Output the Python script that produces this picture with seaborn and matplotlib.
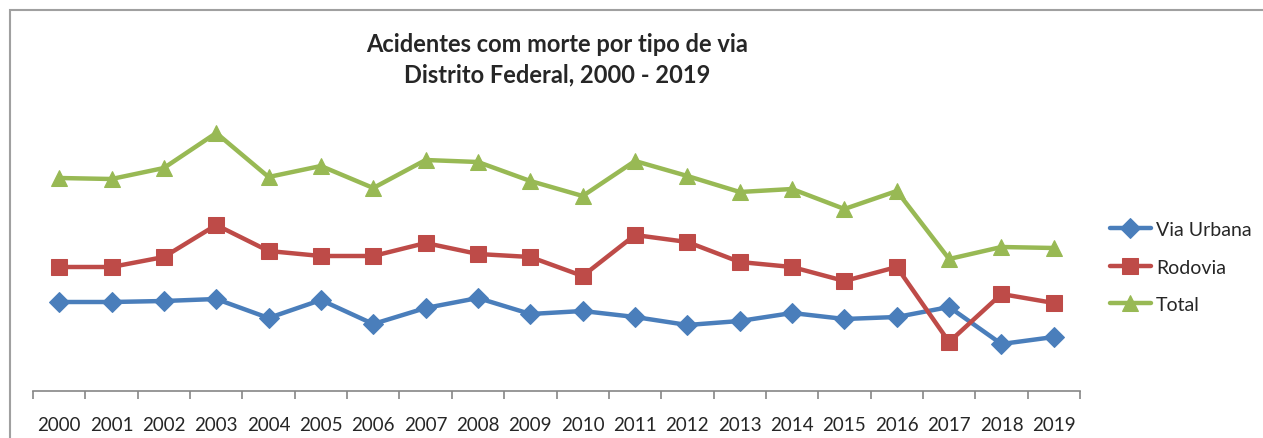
import matplotlib
matplotlib.use('Agg')
import matplotlib.pyplot as plt
import seaborn as sns
import pandas as pd
from matplotlib.patches import Rectangle

# Values (no y axis shown; units estimated)
anos = [str(a) for a in range(2000, 2020)]
via_urbana = [178, 178, 180, 184, 146, 182, 134, 166, 186, 154,
              160, 148, 132, 140, 156, 144, 148, 168, 94, 108]
rodovia = [248, 248, 268, 332, 280, 270, 270, 296, 274, 268,
           230, 312, 298, 258, 248, 220, 248, 98, 194, 176]
total = [426, 424, 446, 516, 428, 450, 406, 462, 458, 420,
         390, 460, 430, 398, 404, 364, 400, 264, 288, 286]

series = {'Via Urbana': via_urbana, 'Rodovia': rodovia, 'Total': total}
cores = {'Via Urbana': '#4A7EBB', 'Rodovia': '#BE4B48', 'Total': '#98B954'}
marcadores = {'Via Urbana': 'D', 'Rodovia': 's', 'Total': '^'}
tamanhos = {'Via Urbana': 10, 'Rodovia': 11, 'Total': 12}

df = pd.DataFrame({'ano': anos * 3,
                   'valor': via_urbana + rodovia + total,
                   'tipo': [k for k in series for _ in anos]})
df['pos'] = list(range(len(anos))) * 3

sns.set_style('white', {'xtick.bottom': True})
plt.rcParams['font.family'] = ['Lato', 'DejaVu Sans']

W, H = 1263, 439
fig = plt.figure(figsize=(W / 100, H / 100), dpi=100)
ax = fig.add_axes([33 / W, (H - 392) / H, (1080 - 33) / W, 372 / H])

for nome in series:
    sub = df[df['tipo'] == nome]
    sns.lineplot(data=sub, x='pos', y='valor', ax=ax, color=cores[nome],
                 marker=marcadores[nome], markersize=tamanhos[nome],
                 markeredgecolor=cores[nome], linewidth=3.2, label=nome)

ax.set_xlim(-0.5, len(anos) - 0.5)
ax.set_ylim(0, 744)
ax.set_xlabel('')
ax.set_ylabel('')
ax.set_yticks([])
ax.set_xticks(range(len(anos)))
ax.set_xticklabels(anos, fontsize=13.5)
ax.set_xticks([i - 0.5 for i in range(len(anos) + 1)], minor=True)
ax.tick_params(axis='x', which='major', length=0, pad=18)
ax.tick_params(axis='x', which='minor', bottom=True, length=6, width=1.2,
               color='#868686', direction='out')
for s in ['top', 'right', 'left']:
    ax.spines[s].set_visible(False)
ax.spines['bottom'].set_color('#868686')
ax.spines['bottom'].set_linewidth(1.2)

leg = ax.legend(loc='center left', bbox_to_anchor=(1.012, 0.333),
                frameon=False, fontsize=14, handlelength=2.1,
                handletextpad=0.25, labelspacing=1.05)

fig.text(557 / W, 1 - 45 / H, 'Acidentes com morte por tipo de via',
         ha='center', va='center', fontsize=17, fontweight='bold')
fig.text(557 / W, 1 - 75 / H, 'Distrito Federal, 2000 - 2019',
         ha='center', va='center', fontsize=17, fontweight='bold')

# outer chart frame
fig.patches.append(Rectangle((10 / W, -0.05), 1.1, 1 - 11 / H + 0.05,
                             transform=fig.transFigure, fill=False,
                             edgecolor='#A0A0A0', linewidth=1.5))

fig.savefig('out.png', dpi=100)
